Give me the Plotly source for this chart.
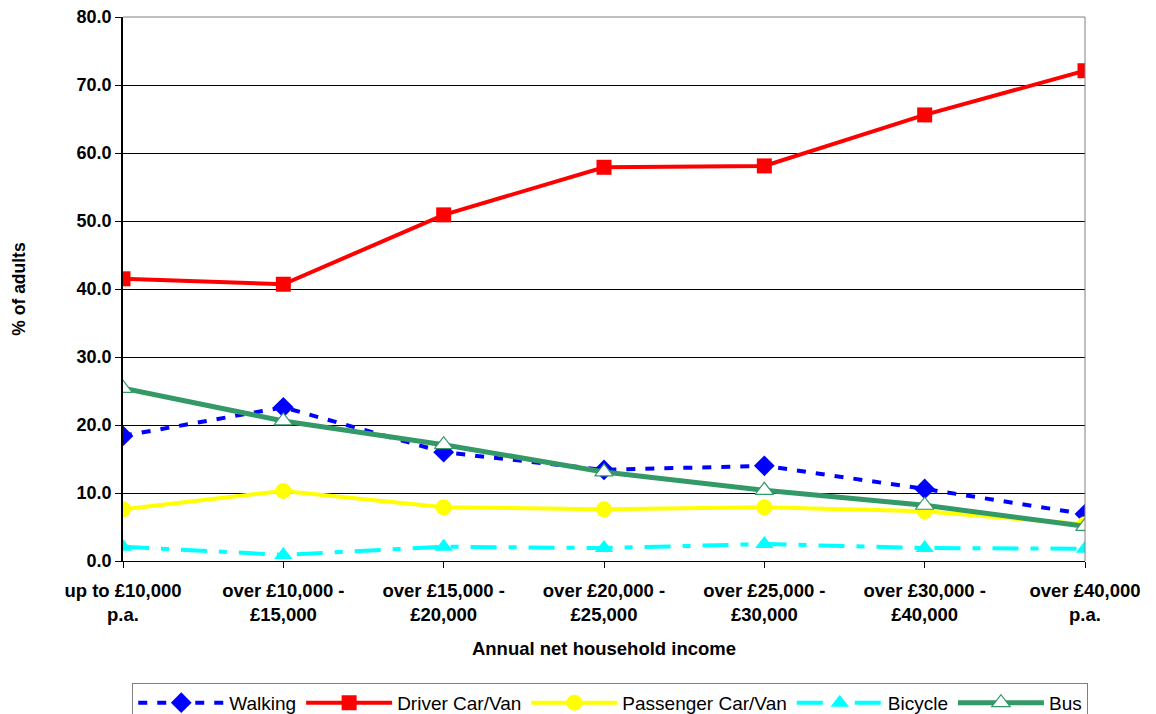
import plotly.graph_objects as go

categories = ["up to £10,000<br>p.a.", "over £10,000 -<br>£15,000", "over £15,000 -<br>£20,000",
              "over £20,000 -<br>£25,000", "over £25,000 -<br>£30,000", "over £30,000 -<br>£40,000",
              "over £40,000<br>p.a."]
walking = [18.4, 22.6, 16.0, 13.4, 14.0, 10.6, 6.9]
driver = [41.5, 40.7, 50.9, 57.9, 58.1, 65.6, 72.1]
passenger = [7.6, 10.3, 7.9, 7.6, 7.9, 7.3, 5.4]
bicycle = [2.1, 0.9, 2.1, 1.9, 2.5, 1.9, 1.8]
bus = [25.4, 20.6, 17.1, 13.1, 10.4, 8.2, 5.1]
y_ticks = [0, 10, 20, 30, 40, 50, 60, 70, 80]

FONT = "Liberation Sans, Arial"
x = list(range(len(categories)))
fig = go.Figure()
fig.add_trace(go.Scatter(x=x, y=walking, name="Walking", mode="lines+markers",
                         line=dict(color="#0000FF", width=4, dash="9px,10px"),
                         marker=dict(symbol="diamond", size=16, color="#0000FF")))
fig.add_trace(go.Scatter(x=x, y=driver, name="Driver Car/Van", mode="lines+markers",
                         line=dict(color="#FF0000", width=4),
                         marker=dict(symbol="square", size=15, color="#FF0000")))
fig.add_trace(go.Scatter(x=x, y=passenger, name="Passenger Car/Van", mode="lines+markers",
                         line=dict(color="#FFFF00", width=4),
                         marker=dict(symbol="circle", size=16, color="#FFFF00")))
fig.add_trace(go.Scatter(x=x, y=bicycle, name="Bicycle", mode="lines+markers",
                         line=dict(color="#00FFFF", width=4, dash="26px,12px,8px,12px"),
                         marker=dict(symbol="triangle-up", size=16, color="#00FFFF")))
fig.add_trace(go.Scatter(x=x, y=bus, name="Bus", mode="lines+markers",
                         line=dict(color="#339966", width=5),
                         marker=dict(symbol="triangle-up", size=16, color="white",
                                     line=dict(color="#339966", width=1.2))))

fig.update_layout(
    width=1156, height=714,
    margin=dict(l=115, r=79, t=9, b=161, autoexpand=False),
    paper_bgcolor="white", plot_bgcolor="white",
    font=dict(family=FONT, color="black"),
    xaxis=dict(range=[0, 6], tickmode="array", tickvals=x, ticktext=categories,
               tickfont=dict(size=18.5, family=FONT, weight="bold"),
               showgrid=False, showline=True, linecolor="black", linewidth=1,
               ticks="outside", ticklen=6, tickcolor="black", zeroline=False,
               ticklabelstandoff=7, ticklabeloverflow="allow",
               title=dict(text="<b>Annual net household income</b>", font=dict(size=18.5), standoff=17)),
    yaxis=dict(range=[0, 80], tickmode="array", tickvals=y_ticks,
               ticktext=[f"{v:.1f}" for v in y_ticks],
               tickfont=dict(size=18, family=FONT, weight="bold"),
               showgrid=True, gridcolor="black", gridwidth=1,
               showline=True, linecolor="black", linewidth=1.5,
               ticks="outside", ticklen=6, tickcolor="black", zeroline=False,
               ticklabeloverflow="allow",
               title=dict(text="<b>% of adults</b>", font=dict(size=17.5), standoff=46)),
    legend=dict(orientation="h", x=0.5065, xanchor="center", y=-0.224, yanchor="top",
                bordercolor="#808080", borderwidth=1, bgcolor="white",
                font=dict(size=19, family=FONT), itemwidth=86),
    showlegend=True,
)
fig.add_shape(type="line", xref="paper", yref="paper", x0=1, x1=1, y0=0, y1=1,
              line=dict(color="#808080", width=1))
fig.add_shape(type="line", xref="paper", yref="paper", x0=0, x1=1, y0=1, y1=1,
              line=dict(color="#808080", width=1))
fig.write_html("out.html")
